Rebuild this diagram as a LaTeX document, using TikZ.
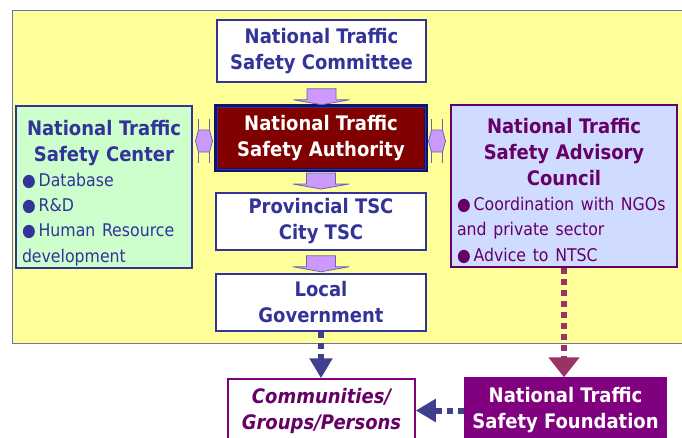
\documentclass[tikz,border=0pt]{standalone}
\usepackage{fontspec}
\setmainfont{DejaVu Sans Condensed}
\usetikzlibrary{arrows.meta,calc}
\definecolor{bgyellow}{HTML}{FFFF99}
\definecolor{frameblue}{HTML}{7272A8}
\definecolor{navytext}{HTML}{333399}
\definecolor{authred}{HTML}{800000}
\definecolor{authframe}{HTML}{12126A}
\definecolor{mint}{HTML}{CCFFCC}
\definecolor{paleblue}{HTML}{CFDBFF}
\definecolor{plum}{HTML}{660066}
\definecolor{fndpurple}{HTML}{800080}
\definecolor{lilac}{HTML}{CC99FF}
\definecolor{lilacline}{HTML}{6666AA}
\definecolor{wine}{HTML}{993366}
\definecolor{dotblue}{HTML}{3F3F8F}
\newcommand{\titlefont}{\fontsize{20}{26}\selectfont\bfseries}
\newcommand{\itemfont}{\fontsize{17.5}{25}\selectfont\mdseries}
\newcommand{\bul}{●\,}
\tikzstyle{box}=[rectangle, draw=navytext, line width=1.5pt, fill=white, text=navytext, font=\titlefont, align=center, inner sep=0pt]
\tikzstyle{listbox}=[box, align=left, inner xsep=6pt, minimum height=162pt]
\tikzstyle{fatarrow}=[fill=lilac, draw=lilacline, line width=0.8pt]
\tikzstyle{dotline}=[line width=6pt, dash pattern=on 6pt off 5pt, -{Triangle[length=20pt,width=22pt]}]
\newcommand{\downblock}[2]{%
  \draw[fatarrow] ($(#1)+(-14.5,#2)$) -- ++(0,11) -- ++(-13.5,0) -- ++(28,5)
    -- ++(28,-5) -- ++(-13.5,0) -- ++(0,-11) -- cycle;}
\newcommand{\sideblock}[2]{%
  \path ($(#1)+(#2,3)$) coordinate (sb);
  \draw[fatarrow] (sb) +(-8.5,0) -- +(-5.5,-11) -- +(5.5,-11) -- +(8.5,0)
    -- +(5.5,11) -- +(-5.5,11) -- cycle;
  \draw[lilacline, line width=0.8pt] (sb) +(-5.5,-22) -- +(-5.5,-11)
    (sb) +(5.5,-22) -- +(5.5,-11) (sb) +(-5.5,11) -- +(-5.5,22)
    (sb) +(5.5,11) -- +(5.5,22);}

\begin{document}
\begin{tikzpicture}[x=1pt, y=-1pt]
      \clip (0,0) rectangle (682,437);
      \fill[white] (0,0) rectangle (682,437);
      \draw[fill=bgyellow, draw=frameblue, line width=1pt] (12,10) rectangle (690,343);

      \node[box, minimum width=209pt, minimum height=62pt] (a1) at (321.5,51) {National Traffic\\Safety Committee};

      \node[listbox, fill=mint, text width=164pt] (b1) at (104,187)
        {{\centering\rule{0pt}{27pt}National Traffic\\Safety Center\par}\itemfont
         \bul Database\\\bul R\&D\\\bul Human Resource\\development};
      \node[box, draw=authframe, line width=4pt, fill=authred, text=white,
            minimum width=210pt, minimum height=64pt] (b2) at (321,138) {National Traffic\\Safety Authority};
      \draw[navytext, line width=0.8pt] ($(b2.south west)+(3,-3)$) rectangle ($(b2.north east)+(-3,3)$);
      \node[listbox, draw=plum, fill=paleblue, text=plum, text width=214pt] (b3) at (564,186)
        {{\centering\rule{0pt}{26pt}National Traffic\\Safety Advisory\\Council\par}\itemfont
         \bul Coordination with NGOs\\and private sector\\\bul Advice to NTSC};

      \node[box, minimum width=210pt, minimum height=57pt] (c1) at (321,221.5) {Provincial TSC\\City TSC};
      \node[box, minimum width=210pt, minimum height=57pt] (d1) at (321,302.5) {Local\\Government};

      \node[box, draw=fndpurple, text=plum, font=\titlefont\itshape,
            minimum width=187pt, minimum height=64pt] (e1) at (321.5,411) {Communities/\\Groups/Persons};
      \node[box, draw=fndpurple, fill=fndpurple, text=white,
            minimum width=201pt, minimum height=65pt] (e2) at (565.5,410.5) {National Traffic\\Safety Foundation};

      \downblock{a1.south}{6}
      \downblock{b2.south}{1}
      \downblock{c1.south}{5}
      \sideblock{b2.west}{-10}
      \sideblock{b2.east}{9}

      \draw[dotline, dotblue] (d1.south) -- (d1.south |- e1.north);
      \draw[dotline, wine, -{Triangle[length=20pt,width=30pt]}] (b3.south) -- (b3.south |- e2.north);
      \draw[dotline, dotblue] (e2.west) -- (e2.west -| e1.east);
\end{tikzpicture}
\end{document}
